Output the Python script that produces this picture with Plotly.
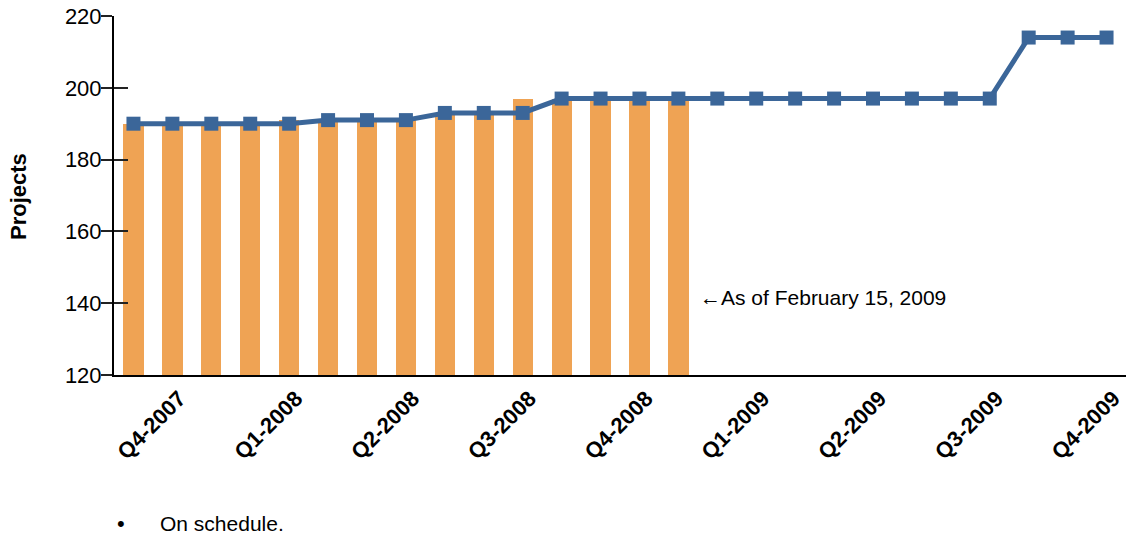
import plotly.graph_objects as go

# ---- data ----
month_index = list(range(26))
planned_projects = [190, 190, 190, 190, 190, 191, 191, 191, 193, 193, 193,
                    197, 197, 197, 197, 197, 197, 197, 197, 197, 197, 197, 197,
                    214, 214, 214]
actual_index = list(range(15))
actual_projects = [190, 190, 190, 190, 191, 191, 191, 191, 193, 193, 197,
                   197, 197, 197, 197]
tick_labels = ["Q4-2007", "Q1-2008", "Q2-2008", "Q3-2008", "Q4-2008",
               "Q1-2009", "Q2-2009", "Q3-2009", "Q4-2009"]
tick_positions = [1, 4, 7, 10, 13, 16, 19, 22, 25]
y_ticks = [120, 140, 160, 180, 200, 220]

BAR = "#EFA354"
LINE = "#3B6699"
FONT = "Liberation Sans, Arial, sans-serif"

W, H = 1126, 535
L, T, R, B = 114, 16, 0, 160
PW, PH = W - L - R, H - T - B
LABEL_SHIFT = 0.18  # rotated labels sit slightly right of their tick in the reference


def px_x(page_x):
    return (page_x - L) / PW


def px_y(page_y):
    return (H - B - page_y) / PH


fig = go.Figure()
fig.add_trace(go.Bar(x=actual_index, y=actual_projects, marker_color=BAR,
                     width=0.52, marker_line_width=0, showlegend=False))
fig.add_trace(go.Scatter(x=month_index, y=planned_projects, mode="lines+markers",
                         line=dict(color=LINE, width=5),
                         marker=dict(symbol="square", size=14, color=LINE),
                         showlegend=False))
# invisible trace to enable the overlay axis for inside ticks
fig.add_trace(go.Scatter(x=[0], y=[120], yaxis="y2", mode="markers",
                         marker=dict(opacity=0), showlegend=False, hoverinfo="skip"))

fig.update_layout(
    width=W, height=H,
    margin=dict(l=L, r=R, t=T, b=B, autoexpand=False),
    plot_bgcolor="white", paper_bgcolor="white",
    font=dict(family=FONT, color="black"),
    xaxis=dict(range=[-0.5, 25.5],
               tickvals=[p + LABEL_SHIFT for p in tick_positions], ticktext=tick_labels,
               tickangle=-45, automargin=False, ticklabeloverflow="allow",
               tickfont=dict(size=22, family=FONT, color="black", weight="bold"),
               showgrid=False, zeroline=False, showline=True, linecolor="black",
               linewidth=2, ticks=""),
    yaxis=dict(range=[120, 220], tickvals=y_ticks, showgrid=False, zeroline=False,
               showline=True, linecolor="black", linewidth=2, automargin=False,
               ticklabeloverflow="allow",
               ticks="outside", ticklen=11, tickwidth=1.5, tickcolor="#222",
               ticklabelstandoff=-5,
               tickfont=dict(size=22, color="black")),
    yaxis2=dict(range=[120, 220], overlaying="y", side="left", tickvals=y_ticks,
                showticklabels=False, showgrid=False, zeroline=False, showline=False,
                ticks="inside", ticklen=14, tickwidth=1.5, tickcolor="#222"),
    bargap=0,
)

fig.add_annotation(x=px_x(19), y=px_y(197), xref="paper", yref="paper",
                   text="<b>Projects</b>", textangle=-90, showarrow=False,
                   xanchor="center", yanchor="middle", font=dict(size=22, color="black"))
fig.add_annotation(x=14.5, y=141.7, xref="x", yref="y", text="←As of February 15, 2009",
                   showarrow=False, xanchor="left", yanchor="middle",
                   font=dict(size=21, color="black"))
fig.add_annotation(x=px_x(121), y=px_y(523), xref="paper", yref="paper",
                   text="•", showarrow=False, xanchor="center", yanchor="middle",
                   font=dict(size=22, color="black"))
fig.add_annotation(x=px_x(158), y=px_y(523), xref="paper", yref="paper",
                   text="On schedule.", showarrow=False, xanchor="left", yanchor="middle",
                   font=dict(size=21, color="black"))

fig.write_html("out.html", config={"displayModeBar": False},
               post_script="document.body.style.margin='0';")
